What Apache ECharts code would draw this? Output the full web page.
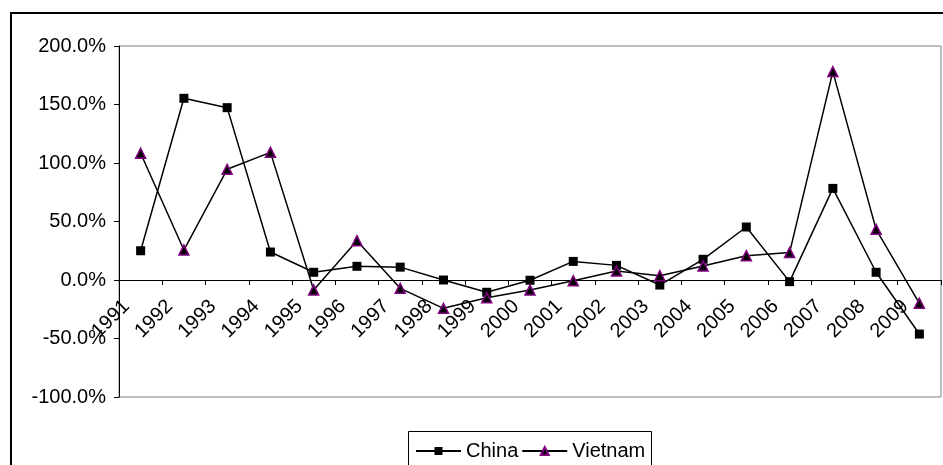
<!DOCTYPE html>
<html>
<head>
<meta charset="utf-8">
<script src="https://cdn.jsdelivr.net/npm/echarts@6/dist/echarts.min.js"></script>
<style>
html,body{margin:0;padding:0;background:#fff;}
#c{width:943px;height:465px;}
</style>
</head>
<body>
<div id="c"></div>
<script>
var years = ['1991','1992','1993','1994','1995','1996','1997','1998','1999','2000','2001','2002','2003','2004','2005','2006','2007','2008','2009'];
var china = [25.0, 155.3, 147.3, 23.9, 6.6, 11.7, 11.0, 0.0, -10.5, -0.2, 15.9, 12.5, -4.3, 17.7, 45.3, -1.4, 78.3, 6.6, -46.2];
var vietnam = [108.3, 25.6, 94.6, 109.1, -8.5, 33.6, -7.1, -24.2, -15.1, -8.5, -0.6, 7.7, 3.7, 12.0, 20.8, 23.4, 178.1, 43.3, -19.9];
var yTicks = {min: -100, max: 200, interval: 50};

var chart = echarts.init(document.getElementById('c'));
var font = 'Liberation Sans, Arial, sans-serif';
chart.setOption({
  animation: false,
  backgroundColor: '#fff',
  graphic: [
    {type: 'rect', shape: {x: 11, y: 13, width: 1000, height: 500}, style: {fill: 'none', stroke: '#000', lineWidth: 2}, z: 100},
    {type: 'rect', shape: {x: 408.5, y: 431.5, width: 243, height: 60}, style: {fill: 'none', stroke: '#000', lineWidth: 1}, z: 100}
  ],
  legend: {
    left: 410, top: 436,
    itemWidth: 45, itemHeight: 10, itemGap: 3,
    textStyle: {fontFamily: font, fontSize: 20, color: '#000'},
    data: ['China', 'Vietnam']
  },
  grid: {left: 119, right: 2, top: 46, bottom: 68, show: true, borderColor: '#808080', borderWidth: 1},
  xAxis: {
    type: 'category',
    data: years,
    boundaryGap: true,
    position: 'bottom',
    offset: -117,
    axisLine: {onZero: false, lineStyle: {color: '#000', width: 1}},
    axisTick: {show: true, length: 5, lineStyle: {color: '#000'}},
    axisLabel: {interval: 0, rotate: 45, margin: 9, padding: [0, 20, 0, 0], fontFamily: font, fontSize: 20, color: '#000'},
    splitLine: {show: false}
  },
  yAxis: {
    type: 'value',
    min: yTicks.min, max: yTicks.max, interval: yTicks.interval,
    axisLine: {show: true, lineStyle: {color: '#000', width: 1}},
    axisTick: {show: true, length: 5, lineStyle: {color: '#000'}},
    axisLabel: {margin: 13, fontFamily: font, fontSize: 20, color: '#000', formatter: function (v) { return v.toFixed(1) + '%'; }},
    splitLine: {show: false}
  },
  series: [
    {
      name: 'China', type: 'line', data: china,
      symbol: 'rect', symbolSize: 9,
      lineStyle: {color: '#000', width: 1.5},
      itemStyle: {color: '#000', borderColor: '#000', borderWidth: 0}
    },
    {
      name: 'Vietnam', type: 'line', data: vietnam,
      symbol: 'triangle', symbolSize: 10,
      lineStyle: {color: '#000', width: 1.5},
      itemStyle: {color: '#000', borderColor: '#800080', borderWidth: 1.5}
    }
  ]
});
</script>
</body>
</html>
